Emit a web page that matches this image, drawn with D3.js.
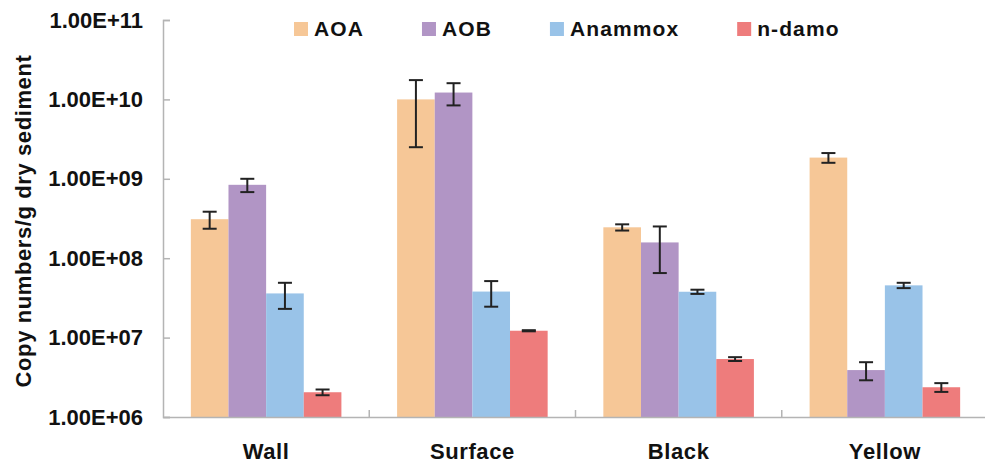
<!DOCTYPE html>
<html><head><meta charset="utf-8">
<script src="https://cdn.jsdelivr.net/npm/d3@7"></script>
<style>
body{margin:0;background:#fff;}
text{font-family:"Liberation Sans",Arial,sans-serif;font-weight:bold;fill:#111;}
</style></head>
<body><svg id="c" width="985" height="471"></svg>
<script>
const categories = ["Wall", "Surface", "Black", "Yellow"];
const seriesNames = ["AOA", "AOB", "Anammox", "n-damo"];
const seriesColors = ["#f6c797", "#b195c5", "#99c3e8", "#ee7c7c"];
const AOA = [3.1e8, 1.0e10, 2.45e8, 1.85e9];
const AOA_err = [0.75e8, 7.5e9, 0.22e8, 0.26e9];
const AOB = [8.4e8, 1.22e10, 1.58e8, 3.9e6];
const AOB_err = [1.6e8, 3.8e9, 0.93e8, 1.0e6];
const Anammox = [3.6e7, 3.8e7, 3.78e7, 4.55e7];
const Anammox_err = [1.3e7, 1.35e7, 0.23e7, 0.35e7];
const ndamo = [2.05e6, 1.22e7, 5.37e6, 2.37e6];
const ndamo_err = [0.17e6, 0.02e7, 0.3e6, 0.3e6];
const yTicks = [1e6, 1e7, 1e8, 1e9, 1e10, 1e11];
const yTitle = "Copy numbers/g dry sediment";

const values = [AOA, AOB, Anammox, ndamo];
const errs = [AOA_err, AOB_err, Anammox_err, ndamo_err];

const svg = d3.select("#c");
const mLeft = 163, mRight = 988, mTop = 20, mBottom = 417;
const axisColor = "#b4b4b4";
const FONT = "Liberation Sans, Arial, sans-serif";

const x0 = d3.scaleBand().domain(categories).range([mLeft, mRight]).paddingInner(0).paddingOuter(0);
const x1 = d3.scaleBand().domain(seriesNames).range([0, x0.bandwidth()]).paddingInner(0).paddingOuter(0.74);
const y = d3.scaleLog().domain([1e6, 1e11]).range([mBottom, mTop]);

const sciFmt = d => {
  const [m, e] = d.toExponential(2).split("e");
  const sign = e[0] === "-" ? "-" : "+";
  const digits = e.replace(/^[+-]/, "").padStart(2, "0");
  return `${m}E${sign}${digits}`;
};

// bars
const data = [];
categories.forEach((c, ci) => seriesNames.forEach((s, si) => {
  data.push({c, s, si, v: values[si][ci], e: errs[si][ci]});
}));
svg.append("g").selectAll("rect").data(data).join("rect")
  .attr("x", d => x0(d.c) + x1(d.s))
  .attr("width", x1.bandwidth())
  .attr("y", d => y(d.v))
  .attr("height", d => mBottom - y(d.v))
  .attr("fill", d => seriesColors[d.si]);

// y axis
const ya = svg.append("g").attr("transform", `translate(${mLeft},0)`)
  .call(d3.axisLeft(y).tickValues(yTicks).tickSize(-7).tickPadding(20).tickFormat(sciFmt));
ya.select(".domain").attr("stroke", axisColor).attr("stroke-width", 1.5);
ya.selectAll(".tick line").attr("stroke", axisColor).attr("stroke-width", 1.5);
ya.selectAll(".tick text").attr("font-size", 22).attr("font-family", FONT).attr("font-weight", "bold")
  .attr("fill", "#111");

// x axis
const xa = svg.append("g").attr("transform", `translate(0,${mBottom})`)
  .call(d3.axisBottom(x0).tickSize(0).tickPadding(26).tickSizeOuter(0));
xa.select(".domain").attr("stroke", axisColor).attr("stroke-width", 1.5);
xa.selectAll(".tick text").attr("font-size", 22).attr("font-family", FONT).attr("font-weight", "bold")
  .attr("fill", "#111").style("letter-spacing", "0.6px");
// category boundary ticks
svg.append("g").selectAll("line").data(categories.slice(1)).join("line")
  .attr("x1", d => x0(d)).attr("x2", d => x0(d))
  .attr("y1", mBottom).attr("y2", mBottom - 7)
  .attr("stroke", axisColor).attr("stroke-width", 1.5);

// error bars
const eg = svg.append("g").attr("stroke", "#222").attr("stroke-width", 2);
const capW = 7;
data.forEach(d => {
  const cx = x0(d.c) + x1(d.s) + x1.bandwidth() / 2;
  const yt = y(d.v + d.e), yb = y(Math.max(d.v - d.e, 1e6));
  eg.append("line").attr("x1", cx).attr("x2", cx).attr("y1", yt).attr("y2", yb);
  eg.append("line").attr("x1", cx - capW).attr("x2", cx + capW).attr("y1", yt).attr("y2", yt);
  eg.append("line").attr("x1", cx - capW).attr("x2", cx + capW).attr("y1", yb).attr("y2", yb);
});

// y title
svg.append("text")
  .attr("transform", `translate(31,221) rotate(-90)`)
  .attr("text-anchor", "middle")
  .attr("font-size", 22)
  .style("letter-spacing", "0.6px")
  .text(yTitle);

// legend
let lx = 294;
seriesNames.forEach((s, i) => {
  const g = svg.append("g");
  g.append("rect").attr("x", lx).attr("y", 22).attr("width", 14).attr("height", 14).attr("fill", seriesColors[i]);
  const t = g.append("text").attr("x", lx + 20).attr("y", 36).attr("font-size", 21)
    .style("letter-spacing", "1.1px").text(s);
  lx += 20 + t.node().getComputedTextLength() + 58;
});
</script></body></html>
